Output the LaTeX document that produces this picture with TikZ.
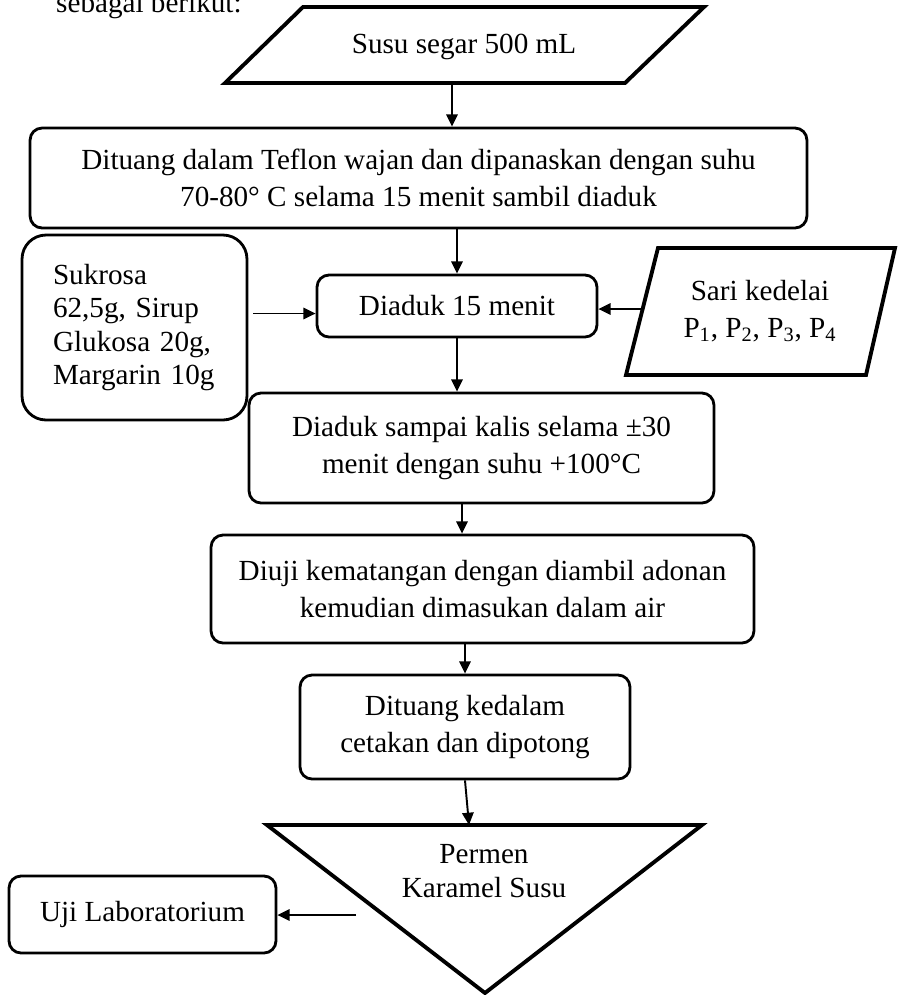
\documentclass[tikz,border=0pt]{standalone}
\usepackage{fontspec}
\setmainfont{Liberation Serif}
\usetikzlibrary{arrows.meta}

\begin{document}
\begin{tikzpicture}[x=0.02cm,y=-0.02cm,
        font=\fontsize{16.6}{21}\selectfont,
        kotak/.style={draw,line width=1.6pt,rounded corners=0.24cm,align=center,inner sep=0pt},
        bentuk/.style={line width=2.2pt,line join=miter},
        panah/.style={line width=1.1pt,-{Triangle[length=7pt,width=6.5pt]}}]
        \useasboundingbox (0,0) rectangle (898,995);
        \node[anchor=base west] (pengantar) at (50,12) {sebagai berikut:};
        \draw[bentuk] (303,7)--(704,7)--(625,83)--(225,83)--cycle;
        \node[minimum height=1.52cm] (susu) at (464,47) {Susu segar 500 mL};
        \node[kotak,minimum width=15.54cm,minimum height=2cm] (olah) at (418.5,178)
            {Dituang dalam Teflon wajan dan dipanaskan dengan suhu\\70-80° C selama 15 menit sambil diaduk};
        \node[kotak,minimum width=5.6cm,minimum height=1.24cm] (diaduk) at (457,306) {Diaduk 15 menit};
        \node[kotak,rounded corners=0.48cm,align=left,text width=3.26cm,inner xsep=0.62cm,minimum height=3.7cm,
            font=\fontsize{16.6}{19}\selectfont] (bahan) at (134.5,327.5)
            {Sukrosa\\62,5g, Sirup\\Glukosa 20g,\\Margarin 10g};
        \draw[bentuk] (658,248)--(895,248)--(866,375)--(626,375)--cycle;
        \node[align=center] (sari) at (760,311) {Sari kedelai\\P\textsubscript{1}, P\textsubscript{2}, P\textsubscript{3}, P\textsubscript{4}};
        \coordinate (sarikiri) at (641,309);
        \node[kotak,minimum width=9.3cm,minimum height=2.2cm] (kalis) at (481.5,448)
            {Diaduk sampai kalis selama ±30\\menit dengan suhu +100°C};
        \node[kotak,minimum width=10.86cm,minimum height=2.16cm] (matang) at (482.5,589)
            {Diuji kematangan dengan diambil adonan\\kemudian dimasukan dalam air};
        \node[kotak,minimum width=6.6cm,minimum height=2.08cm] (cetak) at (465,727)
            {Dituang kedalam\\cetakan dan dipotong};
        \draw[bentuk] (267,825)--(702,825)--(485,993)--cycle;
        \coordinate (puncak) at (469,825);
        \node[align=center,font=\fontsize{16.6}{19}\selectfont] (permen) at (484,871) {Permen\\Karamel Susu};
        \node[kotak,minimum width=5.34cm,minimum height=1.54cm] (lab) at (142.5,914.5) {Uji Laboratorium};
        \coordinate (keluar) at (356,915);
        \draw[panah] ([shift={(-12,0)}]susu.south) coordinate (a) -- (a |- olah.north);
        \draw[panah] (diaduk.north |- olah.south) -- (diaduk.north);
        \draw[panah] ([shift={(5,-14)}]bahan.east) coordinate (b) -- (b -| diaduk.west);
        \draw[panah] (sarikiri) -- (sarikiri -| diaduk.east);
        \draw[panah] (diaduk.south) -- (diaduk.south |- kalis.north);
        \draw[panah] ([shift={(-19.5,0)}]kalis.south) coordinate (c) -- (c |- matang.north);
        \draw[panah] ([shift={(-17.5,0)}]matang.south) coordinate (d) -- (d |- cetak.north);
        \draw[panah] (cetak.south) -- (puncak);
        \draw[panah] (keluar) -- (keluar -| lab.east);
    \end{tikzpicture}
\end{document}
